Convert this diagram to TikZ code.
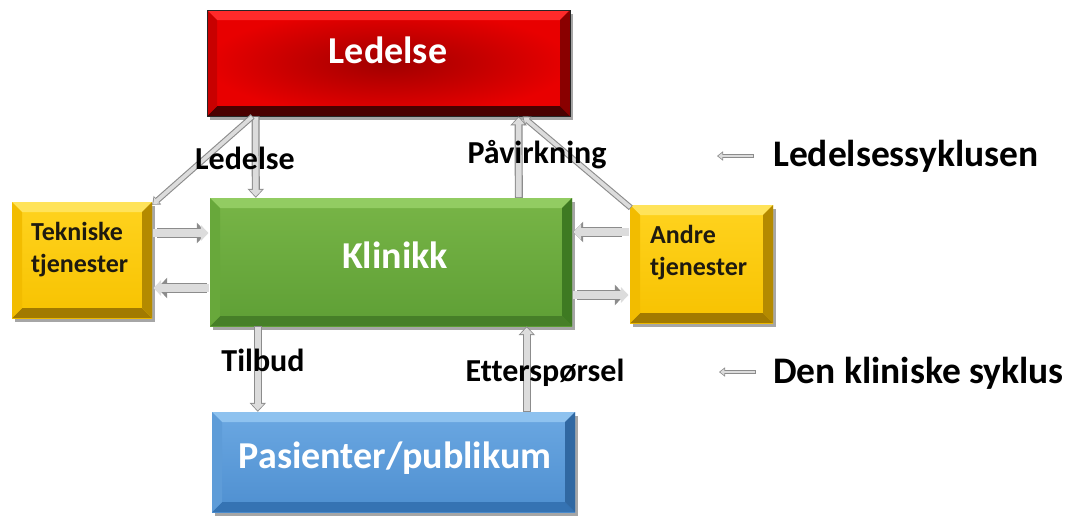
\documentclass[tikz,border=0pt]{standalone}
\usepackage{fontspec}
\setmainfont{Carlito}[Ligatures=NoCommon]
\usetikzlibrary{arrows.meta,shadows}

% colours
\definecolor{arrowedge}{HTML}{8C8C8C}
\definecolor{arrowfill}{HTML}{DCDCDC}
\definecolor{redA}{HTML}{FF2A2A}
\definecolor{redB}{HTML}{E80000}
\definecolor{redC}{HTML}{A00000}
\definecolor{redD}{HTML}{C80000}
\definecolor{redE}{HTML}{8A0000}
\definecolor{redF}{HTML}{4A0000}
\definecolor{grnTop}{HTML}{92CC62}
\definecolor{grnIn1}{HTML}{78B547}
\definecolor{grnIn2}{HTML}{5E9F35}
\definecolor{grnL}{HTML}{68A83B}
\definecolor{grnR}{HTML}{3E7A22}
\definecolor{grnB}{HTML}{467F28}
\definecolor{bluTop}{HTML}{8EC2EF}
\definecolor{bluIn1}{HTML}{6BA8E2}
\definecolor{bluIn2}{HTML}{4E8FD0}
\definecolor{bluL}{HTML}{5E9CD8}
\definecolor{bluR}{HTML}{3068A2}
\definecolor{bluB}{HTML}{3573B3}
\definecolor{yelTop}{HTML}{FFE35A}
\definecolor{yelIn1}{HTML}{FFD31F}
\definecolor{yelIn2}{HTML}{F7C200}
\definecolor{yelL}{HTML}{F2BC00}
\definecolor{yelR}{HTML}{B48A00}
\definecolor{yelB}{HTML}{A27A00}
\definecolor{txtdark}{HTML}{1E1A10}

\newcommand\bevw{10pt}

\tikzset{
  % box with bevelled faces: top / bottom / left / right face colours
  bevelbox/.style n args={4}{
    inner sep=0pt,
    drop shadow={shadow xshift=3pt, shadow yshift=-4pt, opacity=0.35, fill=black},
    path picture={
      \coordinate (pp-sw) at (path picture bounding box.south west);
      \coordinate (pp-ne) at (path picture bounding box.north east);
      \coordinate (pp-nw) at (path picture bounding box.north west);
      \coordinate (pp-se) at (path picture bounding box.south east);
      \fill[#1] (pp-nw) -- (pp-ne) -- ([shift={(-\bevw,-\bevw)}]pp-ne) -- ([shift={(\bevw,-\bevw)}]pp-nw) -- cycle;
      \fill[#2] (pp-sw) -- (pp-se) -- ([shift={(-\bevw,\bevw)}]pp-se) -- ([shift={(\bevw,\bevw)}]pp-sw) -- cycle;
      \fill[#3] (pp-nw) -- (pp-sw) -- ([shift={(\bevw,\bevw)}]pp-sw) -- ([shift={(\bevw,-\bevw)}]pp-nw) -- cycle;
      \fill[#4] (pp-ne) -- (pp-se) -- ([shift={(-\bevw,\bevw)}]pp-se) -- ([shift={(-\bevw,-\bevw)}]pp-ne) -- cycle;
    }
  },
  redbox/.style={bevelbox={redA}{redF}{redD}{redE}, inner color=redC, outer color=redB, draw=black!85, line width=0.8pt},
  greenbox/.style={bevelbox={grnTop}{grnB}{grnL}{grnR}, top color=grnIn1, bottom color=grnIn2},
  bluebox/.style={bevelbox={bluTop}{bluB}{bluL}{bluR}, top color=bluIn1, bottom color=bluIn2},
  yellowbox/.style={bevelbox={yelTop}{yelB}{yelL}{yelR}, top color=yelIn1, bottom color=yelIn2},
  boxtitle/.style={text=white, font=\bfseries\fontsize{38}{42}\selectfont, inner sep=0pt},
  smalltitle/.style={text=txtdark, font=\bfseries\fontsize{26}{32}\selectfont, align=left, inner sep=0pt, anchor=west},
  flowlabel/.style={text=black, font=\bfseries\fontsize{32}{36}\selectfont, inner sep=0pt},
  legendlabel/.style={text=black, font=\bfseries\fontsize{37.5}{42}\selectfont, inner sep=0pt, anchor=west},
  % hollow block arrow: outer shaft, inner shaft, outer/inner head width, outer/inner head length
  hollowarrow/.style n args={6}{
    line width=#1, draw=arrowedge, -{Triangle[width=#3, length=#5]},
    postaction={draw=arrowfill, line width=#2, shorten <=0.8pt, shorten >=1.3pt,
                -{Triangle[width=#4, length=#6]}}
  },
  varrow/.style={hollowarrow={8pt}{5.6pt}{16pt}{12pt}{9pt}{6.6pt}},
  harrow/.style={hollowarrow={10pt}{7.4pt}{20pt}{15.5pt}{10pt}{7.6pt}},
  darrow/.style={hollowarrow={6pt}{3.8pt}{11pt}{7.6pt}{7pt}{5pt}},
  larrow/.style={hollowarrow={4.5pt}{2.6pt}{9pt}{6pt}{6pt}{4pt}},
}

\begin{document}
\begin{tikzpicture}[x=1pt, y=-1pt]
  \useasboundingbox (0,0) rectangle (1069,517);

  % boxes
  \node[redbox, minimum width=363pt, minimum height=106pt] (led) at (388.5,63) {};
  \node[greenbox, minimum width=362pt, minimum height=128pt] (kli) at (391,262) {};
  \node[bluebox, minimum width=363pt, minimum height=100pt] (pas) at (393.5,462) {};
  \node[yellowbox, minimum width=140pt, minimum height=116pt] (tek) at (82,260) {};
  \node[yellowbox, minimum width=143pt, minimum height=118pt] (and) at (701.5,264) {};

  % box texts
  \node[boxtitle] (ledtxt) at (388,50) {Ledelse};
  \node[boxtitle] (klitxt) at (395,255) {Klinikk};
  \node[boxtitle] (pastxt) at (395,458) {Pasienter/publikum};
  \node[smalltitle] (tektxt) at (31,250) {Tekniske\\tjenester};
  \node[smalltitle] (andtxt) at (650,253) {Andre\\tjenester};

  % management cycle
  \draw[varrow] ([xshift=49pt]led.south west) -- ([xshift=46pt]kli.north west);
  \draw[varrow] ([xshift=309pt]kli.north west) -- ([xshift=312pt]led.south west);
  \draw[darrow] ([xshift=46pt]led.south west) -- ([yshift=-3pt]tek.north east);
  \draw[darrow] ([xshift=1pt,yshift=-3pt]and.north west) -- ([xshift=316pt]led.south west);

  % support services
  \draw[harrow, shorten >=3pt, shorten <=5pt] ([yshift=27pt]tek.east) -- ([yshift=29pt]kli.west);
  \draw[harrow, shorten >=5pt, shorten <=3pt] ([yshift=-26pt]kli.west) -- ([yshift=-28pt]tek.east);
  \draw[harrow, shorten >=1pt, shorten <=8pt] ([yshift=32pt]and.west) -- ([yshift=30pt]kli.east);
  \draw[harrow, shorten >=5pt, shorten <=5pt] ([yshift=-33pt]kli.east) -- ([yshift=-31pt]and.west);

  % clinical cycle
  \draw[varrow] ([xshift=48pt]kli.south west) -- ([xshift=46pt]pas.north west);
  \draw[varrow] ([xshift=315pt]pas.north west) -- ([xshift=317pt]kli.south west);

  % flow labels
  \node[flowlabel] (lbled) at (245,158) {Ledelse};
  \node[flowlabel] (lbpav) at (537,155) {Påvirkning};
  \node[flowlabel] (lbtil) at (263,360) {Tilbud};
  \node[flowlabel] (lbett) at (545,373) {Etterspørsel};

  % legend
  \coordinate (lg1a) at (754,156);
  \coordinate (lg1b) at (717,156);
  \coordinate (lg2a) at (756,372);
  \coordinate (lg2b) at (719,372);
  \draw[larrow] (lg1a) -- (lg1b);
  \draw[larrow] (lg2a) -- (lg2b);
  \node[legendlabel] (lgled) at (773,156) {Ledelsessyklusen};
  \node[legendlabel] (lgkli) at (773,373) {Den kliniske syklus};
\end{tikzpicture}
\end{document}
